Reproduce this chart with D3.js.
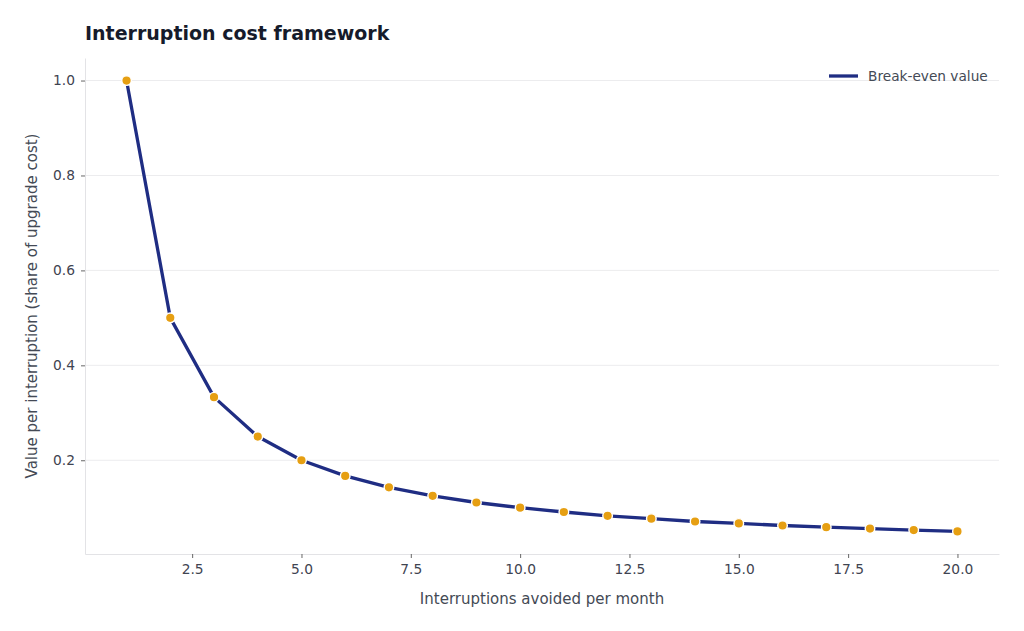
<!DOCTYPE html>
<meta charset="utf-8">
<head>
<style>
  body { margin: 0; background: #fff; }
  svg { font-family: "DejaVu Sans", sans-serif; }
</style>
<title>Interruption cost framework</title>
</head>
<script src="https://cdn.jsdelivr.net/npm/d3@7"></script>
<svg width="1024" height="631" id="svg1"></svg>
<script>
  const interruptions = [1, 2, 3, 4, 5, 6, 7, 8, 9, 10, 11, 12, 13, 14, 15, 16, 17, 18, 19, 20];
  const breakEven = [1.0, 0.5, 0.333, 0.25, 0.2, 0.167, 0.143, 0.125, 0.111, 0.1,
                     0.091, 0.083, 0.077, 0.071, 0.067, 0.0625, 0.059, 0.056, 0.053, 0.05];
  const xTicks = [2.5, 5.0, 7.5, 10.0, 12.5, 15.0, 17.5, 20.0];
  const yTicks = [0.2, 0.4, 0.6, 0.8, 1.0];

  const svg1 = d3.select('#svg1');
  const margin = { top: 58, right: 25, bottom: 77, left: 85 };
  const width = 1024, height = 631;
  const innerWidth = width - margin.left - margin.right;
  const innerHeight = height - margin.top - margin.bottom;

  const data = interruptions.map((x, i) => ({ x: x, y: breakEven[i] }));

  const xScale = d3.scaleLinear().domain([0.05, 20.95]).range([0, innerWidth]);
  const yScale = d3.scaleLinear().domain([0.0025, 1.0475]).range([innerHeight, 0]);

  const g = svg1.append('g').attr('transform', `translate(${margin.left},${margin.top})`);

  // grid
  g.selectAll('.grid').data(yTicks).enter().append('line')
    .attr('x1', 0).attr('x2', innerWidth)
    .attr('y1', d => yScale(d)).attr('y2', d => yScale(d))
    .attr('stroke', '#ececee').attr('stroke-width', 1);

  const xAxis = d3.axisBottom(xScale).tickValues(xTicks).tickFormat(d3.format('.1f'))
    .tickSize(4).tickPadding(6).tickSizeOuter(0);
  const yAxis = d3.axisLeft(yScale).tickValues(yTicks).tickFormat(d3.format('.1f'))
    .tickSize(4).tickPadding(6).tickSizeOuter(0);

  const styleAxis = sel => {
    sel.attr('font-size', 13.8).attr('font-family', '"DejaVu Sans", sans-serif');
    sel.select('.domain').attr('stroke', '#e3e3e6');
    sel.selectAll('.tick line').attr('stroke', '#666');
    sel.selectAll('.tick text').attr('fill', '#3f4451');
  };

  g.append('g').attr('transform', `translate(0,${innerHeight})`).call(xAxis).call(styleAxis);
  g.append('g').call(yAxis).call(styleAxis);

  // line
  const line = d3.line().x(d => xScale(d.x)).y(d => yScale(d.y));
  g.append('path').datum(data)
    .attr('d', line)
    .attr('fill', 'none')
    .attr('stroke', '#1f2d83')
    .attr('stroke-width', 3.3)
    .attr('stroke-linejoin', 'round');

  g.selectAll('.dot').data(data).enter().append('circle')
    .attr('cx', d => xScale(d.x)).attr('cy', d => yScale(d.y))
    .attr('r', 4.8)
    .attr('fill', '#e69f12')
    .attr('stroke', '#fff')
    .attr('stroke-width', 1.4);

  // titles
  svg1.append('text')
    .attr('x', 85).attr('y', 40)
    .attr('font-size', '19px').attr('font-weight', 'bold')
    .attr('fill', '#161b2b')
    .text('Interruption cost framework');

  svg1.append('text')
    .attr('x', margin.left + innerWidth / 2).attr('y', 604)
    .attr('text-anchor', 'middle')
    .attr('font-size', '15px').attr('fill', '#444a55')
    .text('Interruptions avoided per month');

  svg1.append('text')
    .attr('transform', `translate(37,${margin.top + innerHeight / 2}) rotate(-90)`)
    .attr('text-anchor', 'middle')
    .attr('font-size', '15px').attr('fill', '#444a55')
    .text('Value per interruption (share of upgrade cost)');

  // legend
  const lg = svg1.append('g').attr('transform', 'translate(829,76)');
  lg.append('line').attr('x1', 0).attr('x2', 29).attr('y1', 0).attr('y2', 0)
    .attr('stroke', '#1f2d83').attr('stroke-width', 3.3);
  lg.append('text').attr('x', 39).attr('y', 5)
    .attr('font-size', '13.7px').attr('fill', '#444a55')
    .text('Break-even value');
</script>
